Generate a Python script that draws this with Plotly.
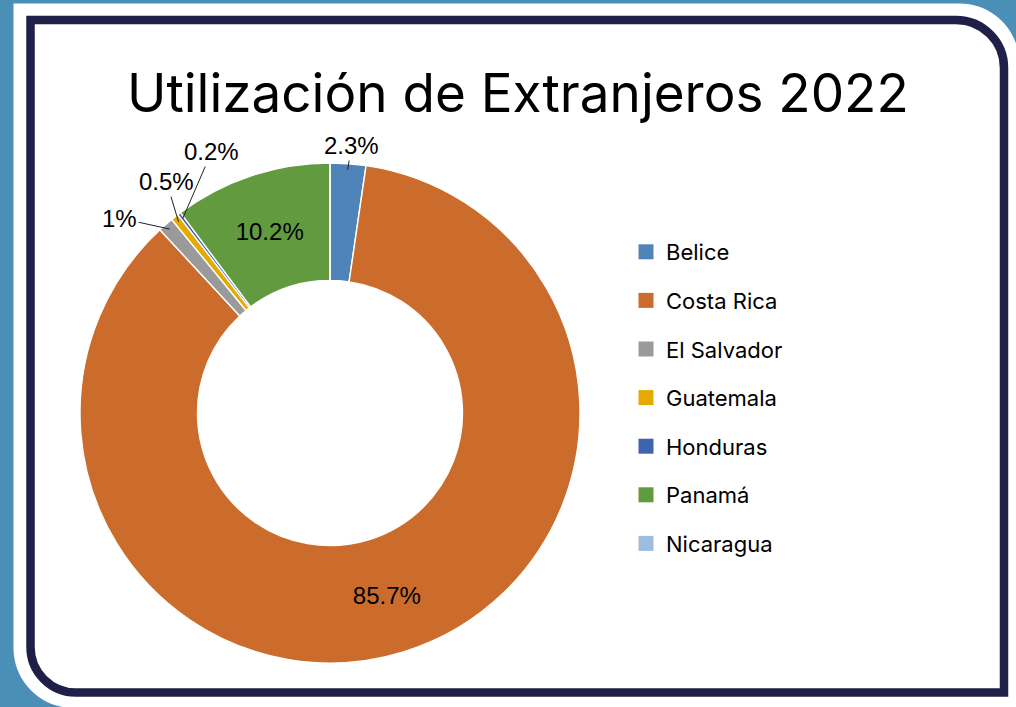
import math
import plotly.graph_objects as go

W, H = 1016, 707

# ---- data ----
countries = ["Belice", "Costa Rica", "El Salvador", "Guatemala", "Honduras", "Panamá", "Nicaragua"]
shares = [2.3, 85.7, 1, 0.5, 0.2, 10.2, 0]
colors = ["#4f84b8", "#cb6c2c", "#9a9a9a", "#e5aa00", "#3d64ad", "#629a3f", "#9dbde0"]
inside_label = [False, True, False, False, False, True, False]
title_text = "Utilización de Extranjeros 2022"

# label offsets (pixels) for the outside labels: style only
outside_offsets = {
    "Belice": (4, -24),
    "El Salvador": (-50, -11),
    "Guatemala": (-12, -40),
    "Honduras": (29, -67),
}

BLUE = "#4a8fb6"
NAVY = "#1f1f48"

# pie geometry (pixels)
PCX, PCY, PR = 330, 413, 250


def X(px):
    return px / W


def Y(py):
    return 1 - py / H


def P(x, y):
    return f"{X(x):.5f},{Y(y):.5f}"


K = 0.5523

# white rounded panel
R1 = 59.5
cx1, cy1 = 960, 63.5
R2 = 60
cx2, cy2 = 73.5, 648
white_path = (
    f"M {P(13.5, 3.5)} L {P(cx1, 3.5)} "
    f"C {P(cx1 + K * R1, 3.5)} {P(cx1 + R1, cy1 - K * R1)} {P(cx1 + R1, cy1)} "
    f"L {P(cx1 + R1, 720)} L {P(cx2, 720)} L {P(cx2, cy2 + R2)} "
    f"C {P(cx2 - K * R2, cy2 + R2)} {P(13.5, cy2 + K * R2)} {P(13.5, cy2)} Z"
)

# navy border
r3 = 48
tx, ty = 956, 68
r4 = 45.5
bx, by = 76, 647
navy_path = (
    f"M {P(30.5, 20)} L {P(tx, 20)} "
    f"C {P(tx + K * r3, 20)} {P(1004, ty - K * r3)} {P(1004, ty)} "
    f"L {P(1004, 692.5)} L {P(bx, 692.5)} "
    f"C {P(bx - K * r4, 692.5)} {P(30.5, by + K * r4)} {P(30.5, by)} Z"
)

fig = go.Figure()

fig.add_trace(go.Pie(
    labels=countries,
    values=shares,
    marker=dict(colors=colors, line=dict(color="white", width=1.4)),
    hole=0.53,
    sort=False,
    direction="clockwise",
    rotation=0,
    texttemplate="%{value}%",
    textposition=["inside" if f else "none" for f in inside_label],
    insidetextorientation="horizontal",
    insidetextfont=dict(family="Liberation Sans, Arial", size=24, color="black"),
    domain=dict(x=[X(PCX - PR), X(PCX + PR)], y=[Y(PCY + PR), Y(PCY - PR)]),
    showlegend=False,
    hoverinfo="label+percent",
))

# outside labels with leader lines, anchored at each slice's mid-angle
annotations = []
total = sum(shares)
cum = 0.0
for name, v in zip(countries, shares):
    mid = (cum + v / 2) / total
    cum += v
    if name not in outside_offsets:
        continue
    theta = 2 * math.pi * mid
    rr = PR * 0.976
    px = PCX + rr * math.sin(theta)
    py = PCY - rr * math.cos(theta)
    ax, ay = outside_offsets[name]
    annotations.append(dict(
        text=f"{v:g}%", x=X(px), y=Y(py), xref="paper", yref="paper",
        showarrow=True, arrowhead=0, arrowwidth=1, arrowcolor="#222222",
        ax=ax, ay=ay, standoff=0, startstandoff=0,
        font=dict(family="Liberation Sans, Arial", size=24, color="black"),
    ))

annotations.append(dict(
    text=title_text, x=X(517.5), y=Y(93.5), xref="paper", yref="paper",
    xanchor="center", yanchor="middle", showarrow=False,
    font=dict(family="Inter", size=53, color="black"),
))

for name, col in zip(countries, colors):
    fig.add_trace(go.Scatter(
        x=[None], y=[None], mode="markers", name=name,
        marker=dict(symbol="square", size=15, color=col),
        legendgroup=name, showlegend=True,
    ))

fig.update_layout(
    width=W, height=H,
    margin=dict(l=0, r=0, t=0, b=0),
    paper_bgcolor=BLUE,
    plot_bgcolor="rgba(0,0,0,0)",
    xaxis=dict(visible=False, domain=[0, 1]),
    yaxis=dict(visible=False, domain=[0, 1]),
    shapes=[
        dict(type="path", xref="paper", yref="paper", path=white_path,
             fillcolor="white", line=dict(width=0), layer="below"),
        dict(type="path", xref="paper", yref="paper", path=navy_path,
             fillcolor="rgba(0,0,0,0)", line=dict(color=NAVY, width=8.5), layer="below"),
    ],
    annotations=annotations,
    legend=dict(
        x=X(626), y=Y(231), xanchor="left", yanchor="top",
        font=dict(family="Inter", size=22, color="black"),
        bgcolor="rgba(0,0,0,0)",
        tracegroupgap=17,
        traceorder="grouped",
    ),
)

fig.write_html("out.html", config={"displayModeBar": False},
               post_script="document.body.style.margin='0';")
